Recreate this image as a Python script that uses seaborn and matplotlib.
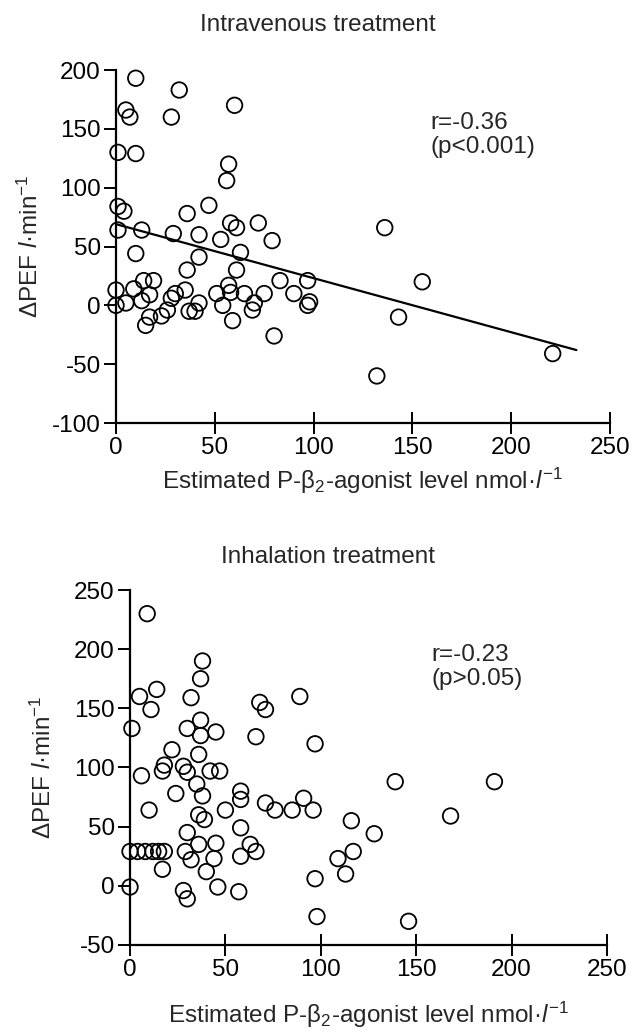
import matplotlib
matplotlib.use('Agg')
import matplotlib.pyplot as plt
import seaborn as sns

# Intravenous treatment: estimated P-beta2-agonist level vs delta PEF
iv_level = [10, 32, 60, 5, 7, 28, 1, 10, 57, 56,
            1, 4, 36, 47, 1, 13, 58, 61, 72, 79, 29, 42, 53, 10, 42, 63, 36, 61, 83, 97,
            0, 0, 5, 9, 14, 19, 13, 17, 15, 17, 23, 26, 28, 30, 35, 37, 40, 42, 51, 54,
            57, 58, 59, 65, 69, 70, 75, 80, 90, 97, 98,
            136, 155, 143, 132, 221]
iv_pef = [193, 183, 170, 166, 160, 160, 130, 129, 120, 106,
          84, 80, 78, 85, 64, 64, 70, 66, 70, 55, 61, 60, 56, 44, 41, 45, 30, 30, 21, 21,
          13, 0, 2, 14, 21, 21, 4, 9, -17, -10, -9, -4, 6, 10, 13, -5, -5, 2, 10, 0,
          17, 11, -13, 10, -4, 2, 10, -26, 10, 0, 3,
          66, 20, -10, -60, -41]
iv_fit_x = [0, 233]
iv_fit_y = [69, -38]

# Inhalation treatment
inh_level = [9, 38, 37, 5, 14, 11, 32, 89, 68, 71, 1, 30, 37, 37, 45, 66, 97,
             22, 36, 18, 17, 28, 30, 42, 47, 6, 35, 38, 24, 58, 58, 71, 76, 85, 91, 96,
             10, 50, 36, 39, 58, 30, 36, 45, 63, 66, 29, 32, 44, 58,
             0, 4, 8, 12, 15, 18, 17, 40, 0, 46, 57, 28, 30, 97, 98,
             139, 191, 168, 116, 128, 117, 109, 113, 146]
inh_pef = [230, 190, 175, 160, 166, 149, 159, 160, 155, 149, 133, 133, 140, 127, 130, 126, 120,
           115, 111, 102, 97, 101, 96, 97, 97, 93, 86, 76, 78, 80, 73, 70, 64, 64, 74, 64,
           64, 64, 60, 56, 49, 45, 35, 36, 35, 29, 29, 22, 23, 25,
           29, 29, 29, 29, 29, 29, 14, 12, -1, -1, -5, -4, -11, 6, -26,
           88, 88, 59, 55, 44, 29, 23, 10, -30]

sns.set_style('ticks')
plt.rcParams['font.family'] = ['Liberation Sans', 'DejaVu Sans']
plt.rcParams['mathtext.fontset'] = 'custom'
plt.rcParams['mathtext.rm'] = 'Liberation Sans'
plt.rcParams['mathtext.it'] = 'Liberation Sans:italic'
plt.rcParams['mathtext.default'] = 'regular'
plt.rcParams['axes.unicode_minus'] = False

fs = 17.5
xlab = r'Estimated P-β$_2$-agonist level nmol·$\mathit{l}^{-1}$'
ylab = r'ΔPEF $\mathit{l}$·min$^{-1}$'

fig = plt.figure(figsize=(6.36, 10.34), dpi=100)
ax1 = fig.add_axes([0.1824, 0.5909, 0.7767, 0.3414])
ax2 = fig.add_axes([0.2044, 0.0861, 0.75, 0.3433])


def style_axes(ax, ylim, yticks):
    ax.set_xlim(0, 250)
    ax.set_ylim(*ylim)
    ax.set_xticks([0, 50, 100, 150, 200, 250])
    ax.set_yticks(yticks)
    sns.despine(ax=ax)
    for side in ['left', 'bottom']:
        ax.spines[side].set_linewidth(1.6)
        ax.spines[side].set_color('black')
    ax.tick_params(axis='x', direction='inout', length=16, width=1.4, pad=2,
                   labelsize=fs, colors='black')
    ax.tick_params(axis='y', direction='out', length=9, width=1.4, pad=2,
                   labelsize=fs, colors='black')


sns.scatterplot(x=iv_level, y=iv_pef, ax=ax1, s=125, facecolor='none',
                edgecolor='black', linewidth=1.3, clip_on=False, zorder=3)
sns.lineplot(x=iv_fit_x, y=iv_fit_y, ax=ax1, color='black', linewidth=1.6)
style_axes(ax1, (-100, 200), [-100, -50, 0, 50, 100, 150, 200])
ax1.text(159, 164, 'r=-0.36\n(p<0.001)', fontsize=fs, va='top', ha='left',
         linespacing=1.1)

sns.scatterplot(x=inh_level, y=inh_pef, ax=ax2, s=125, facecolor='none',
                edgecolor='black', linewidth=1.3, clip_on=False, zorder=3)
style_axes(ax2, (-50, 250), [-50, 0, 50, 100, 150, 200, 250])
ax2.text(158, 204, 'r=-0.23\n(p>0.05)', fontsize=fs, va='top', ha='left',
         linespacing=1.1)

for ax, ypos, xpos in [(ax1, -0.12, -0.148), (ax2, -0.155, -0.155)]:
    ax.set_xlabel(xlab, fontsize=fs)
    ax.set_ylabel(ylab, fontsize=fs)
    ax.xaxis.set_label_coords(0.5, ypos)
    ax.yaxis.set_label_coords(xpos, 0.5)

fig.text(0.5, 1 - 25 / 1034, 'Intravenous treatment', fontsize=fs,
         ha='center', va='center')
fig.text(0.515, 1 - 557 / 1034, 'Inhalation treatment', fontsize=fs,
         ha='center', va='center')

fig.savefig('out.png', dpi=100)
